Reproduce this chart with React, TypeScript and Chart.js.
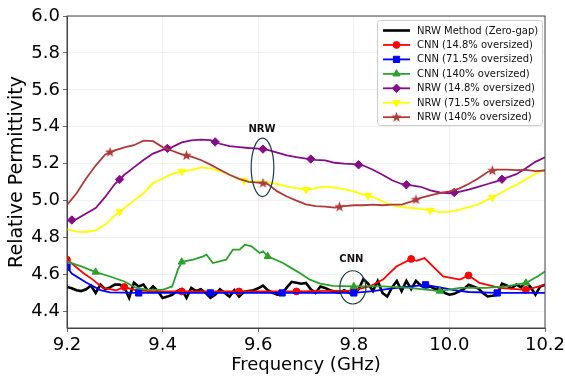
import React, { useEffect, useRef } from "react";
import { Chart, registerables } from "chart.js";
import { drawPoint } from "chart.js/helpers";
Chart.register(...registerables);

const FONT = "'DejaVu Sans', 'Liberation Sans', sans-serif";

// ---------- axes ----------
const xTicks = [9.2, 9.4, 9.6, 9.8, 10.0, 10.2];
const yTicks = [4.4, 4.6, 4.8, 5.0, 5.2, 5.4, 5.6, 5.8, 6.0];
const xMin = 9.2;
const xMax = 10.2;
const yMin = 4.31;
const yMax = 6.0;

// ---------- frequency grids ----------
const fineFreq = Array.from({ length: 101 }, (_, i) => +(9.2 + i * 0.01).toFixed(2));
const coarseFreq = Array.from({ length: 51 }, (_, i) => +(9.2 + i * 0.02).toFixed(2));

// ---------- series ----------
const seriesLabels = [
  "NRW Method (Zero-gap)",
  "CNN (14.8% oversized)",
  "CNN (71.5% oversized)",
  "CNN (140% oversized)",
  "NRW (14.8% oversized)",
  "NRW (71.5% oversized)",
  "NRW (140% oversized)",
];
const seriesColors = ["#000000", "#ff0000", "#0000ff", "#2ca02c", "#850d8a", "#ffff00", "#b03a3a"];
const seriesWidths = [2.6, 1.8, 1.8, 1.8, 1.8, 1.8, 1.8];

// NRW zero gap (fine grid)
const nrwZeroVals = [
  4.532, 4.525, 4.515, 4.51, 4.52, 4.54, 4.5, 4.545, 4.52, 4.53,
  4.545, 4.545, 4.53, 4.473, 4.555, 4.535, 4.545, 4.508, 4.535, 4.51,
  4.473, 4.48, 4.49, 4.51, 4.52, 4.473, 4.527, 4.51, 4.52, 4.5,
  4.473, 4.49, 4.52, 4.5, 4.48, 4.515, 4.48, 4.505, 4.51, 4.515,
  4.525, 4.54, 4.515, 4.5, 4.49, 4.495, 4.53, 4.56, 4.555, 4.55,
  4.554, 4.52, 4.5, 4.535, 4.527, 4.515, 4.508, 4.5, 4.515, 4.5,
  4.49, 4.52, 4.575, 4.55, 4.51, 4.565, 4.5, 4.48, 4.53, 4.565,
  4.51, 4.565, 4.52, 4.565, 4.54, 4.53, 4.535, 4.52, 4.527, 4.5,
  4.49, 4.495, 4.508, 4.52, 4.544, 4.535, 4.525, 4.5, 4.481, 4.485,
  4.49, 4.55, 4.54, 4.525, 4.545, 4.53, 4.562, 4.53, 4.49, 4.535,
  4.544,
];

// CNN 14.8%
const cnn148Freq = [9.2, 9.234, 9.254, 9.275, 9.303, 9.32, 9.345, 9.38, 9.44, 9.56, 9.68, 9.79, 9.8, 9.833, 9.861, 9.889, 9.92, 9.931, 9.948, 9.966, 9.987, 10.022, 10.04, 10.063, 10.105, 10.16, 10.2];
const cnn148Vals = [4.68, 4.608, 4.572, 4.527, 4.514, 4.532, 4.514, 4.508, 4.508, 4.508, 4.508, 4.512, 4.515, 4.535, 4.572, 4.643, 4.684, 4.674, 4.689, 4.643, 4.589, 4.572, 4.595, 4.554, 4.527, 4.517, 4.544];
const cnn148MarkFreq = [9.2, 9.32, 9.44, 9.56, 9.68, 9.8, 9.92, 10.04, 10.16];
const cnn148MarkVals = [4.68, 4.532, 4.508, 4.508, 4.508, 4.515, 4.684, 4.595, 4.517];

// CNN 71.5%
const cnn715Freq = [9.2, 9.21, 9.24, 9.27, 9.29, 9.35, 9.5, 9.65, 9.8, 9.84, 9.88, 9.92, 9.95, 9.98, 10.01, 10.04, 10.1, 10.2];
const cnn715Vals = [4.64, 4.605, 4.556, 4.515, 4.503, 4.5, 4.5, 4.5, 4.5, 4.51, 4.525, 4.535, 4.544, 4.53, 4.515, 4.505, 4.5, 4.5];
const cnn715MarkFreq = [9.2, 9.35, 9.5, 9.65, 9.8, 9.95, 10.1];
const cnn715MarkVals = [4.64, 4.5, 4.5, 4.5, 4.5, 4.544, 4.5];

// CNN 140%
const cnn140Freq = [9.2, 9.23, 9.26, 9.29, 9.32, 9.345, 9.37, 9.4, 9.42, 9.432, 9.44, 9.464, 9.485, 9.492, 9.505, 9.519, 9.533, 9.547, 9.561, 9.572, 9.586, 9.603, 9.61, 9.62, 9.652, 9.673, 9.687, 9.708, 9.73, 9.756, 9.8, 9.861, 9.917, 9.98, 10.022, 10.077, 10.119, 10.16, 10.185, 10.2];
const cnn140Vals = [4.67, 4.644, 4.613, 4.589, 4.562, 4.527, 4.517, 4.517, 4.535, 4.626, 4.668, 4.68, 4.698, 4.707, 4.662, 4.671, 4.68, 4.734, 4.734, 4.761, 4.752, 4.716, 4.725, 4.698, 4.662, 4.629, 4.608, 4.572, 4.55, 4.538, 4.535, 4.535, 4.527, 4.51, 4.527, 4.527, 4.535, 4.554, 4.59, 4.616];
const cnn140MarkFreq = [9.26, 9.44, 9.62, 9.8, 9.98, 10.16];
const cnn140MarkVals = [4.613, 4.668, 4.698, 4.535, 4.51, 4.554];

// NRW 14.8% (coarse grid)
const nrw148Vals = [
  4.89, 4.9, 4.93, 4.96, 5.02, 5.09, 5.14, 5.18, 5.22, 5.255,
  5.275, 5.29, 5.315, 5.326, 5.33, 5.328, 5.308, 5.295, 5.29, 5.285,
  5.282, 5.275, 5.26, 5.245, 5.235, 5.228, 5.221, 5.218, 5.205, 5.2,
  5.198, 5.19, 5.167, 5.14, 5.11, 5.09, 5.082, 5.075, 5.055, 5.044,
  5.04, 5.048, 5.06, 5.075, 5.09, 5.106, 5.125, 5.143, 5.175, 5.21,
  5.235,
];
const nrw148MarkFreq = [9.21, 9.31, 9.41, 9.51, 9.61, 9.71, 9.81, 9.91, 10.01, 10.11];
const nrw148MarkVals = [4.895, 5.115, 5.283, 5.318, 5.279, 5.225, 5.194, 5.086, 5.044, 5.116];

// NRW 71.5%
const nrw715Vals = [
  4.845, 4.832, 4.83, 4.84, 4.87, 4.92, 4.96, 5.0, 5.04, 5.095,
  5.12, 5.145, 5.158, 5.165, 5.18, 5.175, 5.16, 5.14, 5.115, 5.105,
  5.103, 5.1, 5.09, 5.076, 5.068, 5.06, 5.068, 5.076, 5.07, 5.062,
  5.05, 5.033, 5.02, 4.995, 4.975, 4.965, 4.96, 4.955, 4.947, 4.938,
  4.94, 4.95, 4.965, 4.98, 5.005, 5.03, 5.06, 5.085, 5.115, 5.145,
  5.17,
];
const nrw715MarkFreq = [9.31, 9.44, 9.57, 9.7, 9.83, 9.96, 10.09];
const nrw715MarkVals = [4.94, 5.158, 5.11, 5.06, 5.027, 4.947, 5.017];

// NRW 140%
const nrw140Vals = [
  4.977, 5.04, 5.12, 5.19, 5.25, 5.272, 5.288, 5.3, 5.325, 5.322,
  5.29, 5.27, 5.25, 5.238, 5.22, 5.195, 5.167, 5.14, 5.118, 5.102,
  5.097, 5.09, 5.05, 5.022, 5.0, 4.98, 4.97, 4.968, 4.962, 4.97,
  4.975, 4.975, 4.978, 4.975, 4.978, 4.978, 4.995, 5.015, 5.028, 5.04,
  5.05, 5.065, 5.09, 5.12, 5.155, 5.168, 5.168, 5.165, 5.166, 5.16,
  5.163,
];
const nrw140MarkFreq = [9.29, 9.45, 9.61, 9.77, 9.93, 10.09];
const nrw140MarkVals = [5.262, 5.244, 5.094, 4.966, 5.005, 5.162];

const seriesFreq = [fineFreq, cnn148Freq, cnn715Freq, cnn140Freq, coarseFreq, coarseFreq, coarseFreq];
const seriesVals = [nrwZeroVals, cnn148Vals, cnn715Vals, cnn140Vals, nrw148Vals, nrw715Vals, nrw140Vals];
const markFreq = [[], cnn148MarkFreq, cnn715MarkFreq, cnn140MarkFreq, nrw148MarkFreq, nrw715MarkFreq, nrw140MarkFreq];
const markVals = [[], cnn148MarkVals, cnn715MarkVals, cnn140MarkVals, nrw148MarkVals, nrw715MarkVals, nrw140MarkVals];
const markStyles = ["line", "circle", "rect", "triangle", "rectRot", "triangle", "star"];
const markRotations = [0, 0, 0, 0, 0, 180, 0];
const markRadii = [0, 3.4, 4.4, 4.2, 4.2, 4.2, 5];

// ---------- annotations ----------
const annoLabels = ["NRW", "CNN"];
const annoLabelX = [9.608, 9.795];
const annoLabelY = [5.388, 4.68];
const ellipseCx = [9.609, 9.798];
const ellipseCy = [5.18, 4.53];
const ellipseDx = [0.0237, 0.0272];
const ellipseDy = [0.158, 0.09];

function makeStar(color: string, size: number) {
  const c = document.createElement("canvas");
  c.width = size;
  c.height = size;
  const g = c.getContext("2d")!;
  g.fillStyle = color;
  g.beginPath();
  for (let k = 0; k < 10; k++) {
    const r = k % 2 === 0 ? size / 2 : (size / 2) * 0.42;
    const ang = -Math.PI / 2 + (k * Math.PI) / 5;
    g.lineTo(size / 2 + r * Math.cos(ang), size / 2 + r * Math.sin(ang));
  }
  g.closePath();
  g.fill();
  return c;
}

export default function App() {
  const ref = useRef<HTMLCanvasElement>(null);

  useEffect(() => {
    const canvas = ref.current!;
    const star = makeStar(seriesColors[6], 11);
    const styleFor = (i: number) => (markStyles[i] === "star" ? star : markStyles[i]);

    const datasets: any[] = [];
    seriesLabels.forEach((label, i) => {
      datasets.push({
        label,
        data: seriesFreq[i].map((x, k) => ({ x, y: seriesVals[i][k] })),
        borderColor: seriesColors[i],
        backgroundColor: seriesColors[i],
        borderWidth: seriesWidths[i],
        pointRadius: 0,
        tension: 0,
        fill: false,
        order: 100 - 2 * i,
      });
      if (markFreq[i].length) {
        datasets.push({
          label: label + " markers",
          data: markFreq[i].map((x, k) => ({ x, y: markVals[i][k] })),
          showLine: false,
          borderColor: seriesColors[i],
          backgroundColor: seriesColors[i],
          pointStyle: styleFor(i),
          pointRotation: markRotations[i],
          pointRadius: markRadii[i],
          pointBorderWidth: 1,
          order: 100 - 2 * i - 1,
        });
      }
    });

    const overlay = {
      id: "overlay",
      afterDatasetsDraw(chart: any) {
        const { ctx, chartArea: a, scales } = chart;
        const xs = scales.x;
        const ys = scales.y;
        ctx.save();
        // annotations
        ctx.strokeStyle = "#1d3c4c";
        ctx.lineWidth = 1.2;
        for (let i = 0; i < annoLabels.length; i++) {
          const cx = xs.getPixelForValue(ellipseCx[i]);
          const cy = ys.getPixelForValue(ellipseCy[i]);
          const rx = xs.getPixelForValue(ellipseCx[i] + ellipseDx[i]) - cx;
          const ry = cy - ys.getPixelForValue(ellipseCy[i] + ellipseDy[i]);
          ctx.beginPath();
          ctx.ellipse(cx, cy, rx, ry, 0, 0, Math.PI * 2);
          ctx.stroke();
          ctx.fillStyle = "#111";
          ctx.font = `bold 10px ${FONT}`;
          ctx.textAlign = "center";
          ctx.textBaseline = "middle";
          ctx.fillText(annoLabels[i], xs.getPixelForValue(annoLabelX[i]), ys.getPixelForValue(annoLabelY[i]));
        }
        // full frame
        ctx.strokeStyle = "#444";
        ctx.lineWidth = 1;
        ctx.strokeRect(a.left, a.top, a.right - a.left, a.bottom - a.top);

        // legend
        const bw = 165;
        const bh = 105;
        const bx = a.right - 3 - bw;
        const by = a.top + 4;
        ctx.beginPath();
        ctx.roundRect(bx + 0.5, by + 0.5, bw, bh, 3);
        ctx.fillStyle = "rgba(255,255,255,0.85)";
        ctx.fill();
        ctx.strokeStyle = "#cccccc";
        ctx.lineWidth = 1;
        ctx.stroke();
        ctx.font = `10px ${FONT}`;
        ctx.textAlign = "left";
        ctx.textBaseline = "middle";
        for (let i = 0; i < seriesLabels.length; i++) {
          const yy = by + 10.5 + i * 14.45;
          const x0 = bx + 6;
          const x1 = bx + 33;
          ctx.strokeStyle = seriesColors[i];
          ctx.lineWidth = seriesWidths[i];
          ctx.beginPath();
          ctx.moveTo(x0, yy);
          ctx.lineTo(x1, yy);
          ctx.stroke();
          if (markRadii[i] > 0) {
            ctx.fillStyle = seriesColors[i];
            ctx.strokeStyle = seriesColors[i];
            ctx.lineWidth = 1;
            drawPoint(ctx, { pointStyle: styleFor(i), rotation: markRotations[i], radius: markRadii[i], borderWidth: 1 } as any, (x0 + x1) / 2, yy);
          }
          ctx.fillStyle = "#111";
          ctx.fillText(seriesLabels[i], bx + 40, yy + 0.5);
        }
        ctx.restore();
      },
    };

    const chart = new Chart(canvas, {
      type: "line",
      data: { datasets },
      options: {
        responsive: false,
        animation: false,
        events: [],
        layout: { padding: { left: 0, right: 20, top: 16, bottom: 0 } },
        plugins: { legend: { display: false }, tooltip: { enabled: false } },
        scales: {
          x: {
            type: "linear",
            min: xMin,
            max: xMax,
            afterBuildTicks: (s: any) => {
              s.ticks = xTicks.map((value) => ({ value }));
            },
            afterFit: (s: any) => {
              s.height = 51;
              s.paddingLeft = 0;
              s.paddingRight = 0;
            },
            ticks: {
              callback: (v: any) => Number(v).toFixed(1),
              font: { family: FONT, size: 18 },
              color: "#000",
              padding: 3,
              maxRotation: 0,
              autoSkip: false,
            },
            grid: { color: "rgba(0,0,0,0.07)", lineWidth: 0.8, tickColor: "#444", tickLength: 4 },
            border: { color: "#444", width: 1 },
            title: {
              display: true,
              text: "Frequency (GHz)",
              font: { family: FONT, size: 18 },
              color: "#000",
              padding: { top: 0, bottom: 3 },
            },
          },
          y: {
            type: "linear",
            min: yMin,
            max: yMax,
            afterBuildTicks: (s: any) => {
              s.ticks = yTicks.map((value) => ({ value }));
            },
            afterFit: (s: any) => {
              s.width = 67;
              s.paddingTop = 0;
              s.paddingBottom = 0;
            },
            ticks: {
              callback: (v: any) => Number(v).toFixed(1),
              font: { family: FONT, size: 18 },
              color: "#000",
              padding: 3,
              autoSkip: false,
            },
            grid: { color: "rgba(0,0,0,0.07)", lineWidth: 0.8, tickColor: "#444", tickLength: 4 },
            border: { color: "#444", width: 1 },
            title: {
              display: true,
              text: "Relative Permittivity",
              font: { family: FONT, size: 19 },
              color: "#000",
              padding: { top: 6, bottom: 0 },
            },
          },
        },
      } as any,
      plugins: [overlay],
    });
    return () => chart.destroy();
  }, []);

  return (
    <div style={{ position: "absolute", left: 0, top: 0, width: 565, height: 379, background: "#fff" }}>
      <canvas ref={ref} width={565} height={379} style={{ display: "block" }} />
    </div>
  );
}
